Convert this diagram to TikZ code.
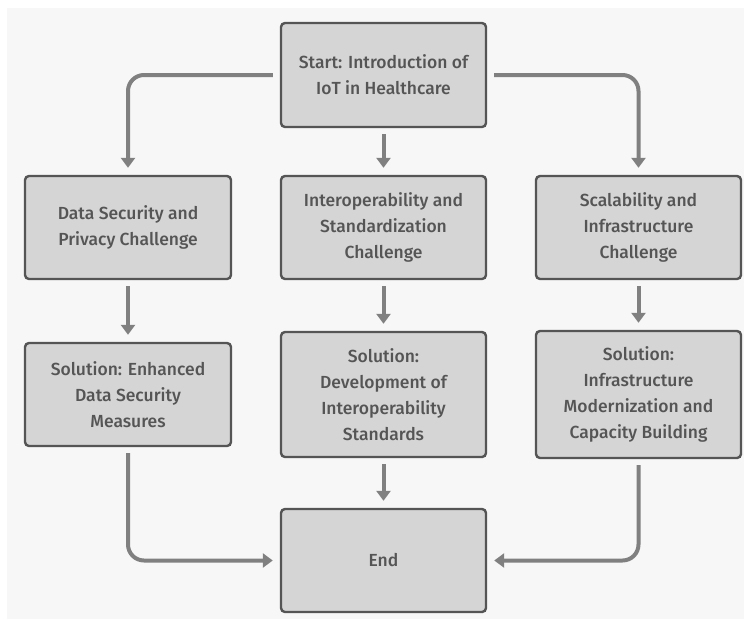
\documentclass[tikz,border=0pt]{standalone}
\usepackage{fontspec}
\setmainfont{Fira Sans Medium}
\usetikzlibrary{arrows.meta}
\definecolor{panel}{HTML}{F7F7F7}
\definecolor{boxfill}{HTML}{D5D5D5}
\definecolor{boxline}{HTML}{555555}
\definecolor{flow}{HTML}{808080}
\definecolor{ink}{HTML}{555555}
\tikzset{
  stage/.style={draw=boxline, line width=2.4pt, fill=boxfill, rounded corners=4pt,
    text=ink, align=center, inner sep=0pt,
    font=\fontsize{17.5}{26}\selectfont},
  flowline/.style={draw=flow, line width=4pt, rounded corners=16pt,
    -{Triangle[length=10pt,width=14pt]}}
}
\begin{document}
\begin{tikzpicture}[x=1pt,y=-1pt]
  \useasboundingbox (0,0) rectangle (744,619);
  \fill[white] (0,0) rectangle (744,619);
  \fill[panel] (7,8) rectangle (744,619);

  % stage boxes
  \node[stage, minimum width=205pt, minimum height=104pt] (start) at (383.5,75) {Start: Introduction of\\IoT in Healthcare};
  \node[stage, minimum width=206pt, minimum height=103pt] (c1) at (128,227.5) {Data Security and\\Privacy Challenge};
  \node[stage, minimum width=205pt, minimum height=103pt] (c2) at (383.5,227.5) {Interoperability and\\Standardization\\Challenge};
  \node[stage, minimum width=205pt, minimum height=103pt] (c3) at (638.5,227.5) {Scalability and\\Infrastructure\\Challenge};
  \node[stage, minimum width=206pt, minimum height=103pt] (s1) at (128,394.5) {Solution: Enhanced\\Data Security\\Measures};
  \node[stage, minimum width=205pt, minimum height=125pt] (s2) at (383.5,394.5) {Solution:\\Development of\\Interoperability\\Standards};
  \node[stage, minimum width=205pt, minimum height=127pt] (s3) at (638.5,394.5) {Solution:\\Infrastructure\\Modernization and\\Capacity Building};
  \node[stage, minimum width=205pt, minimum height=103pt] (end) at (383.5,560.5) {End};

  % connectors, kept a few points clear of the boxes
  \draw[flowline] ([xshift=-7pt]start.west) -| ([yshift=7pt]c1.north);
  \draw[flowline] ([xshift=7pt]start.east) -| ([yshift=7pt]c3.north);
  \draw[flowline] ([yshift=-6pt]start.south) -- ([yshift=7pt]c2.north);
  \draw[flowline] ([yshift=-6pt]c1.south) -- ([yshift=7pt]s1.north);
  \draw[flowline] ([yshift=-6pt]c2.south) -- ([yshift=7pt]s2.north);
  \draw[flowline] ([yshift=-6pt]c3.south) -- ([yshift=7pt]s3.north);
  \draw[flowline] ([yshift=-6pt]s2.south) -- ([yshift=7pt]end.north);
  \draw[flowline] ([yshift=-6pt]s1.south) |- ([xshift=-7pt]end.west);
  \draw[flowline] ([yshift=-6pt]s3.south) |- ([xshift=7pt]end.east);
\end{tikzpicture}
\end{document}
